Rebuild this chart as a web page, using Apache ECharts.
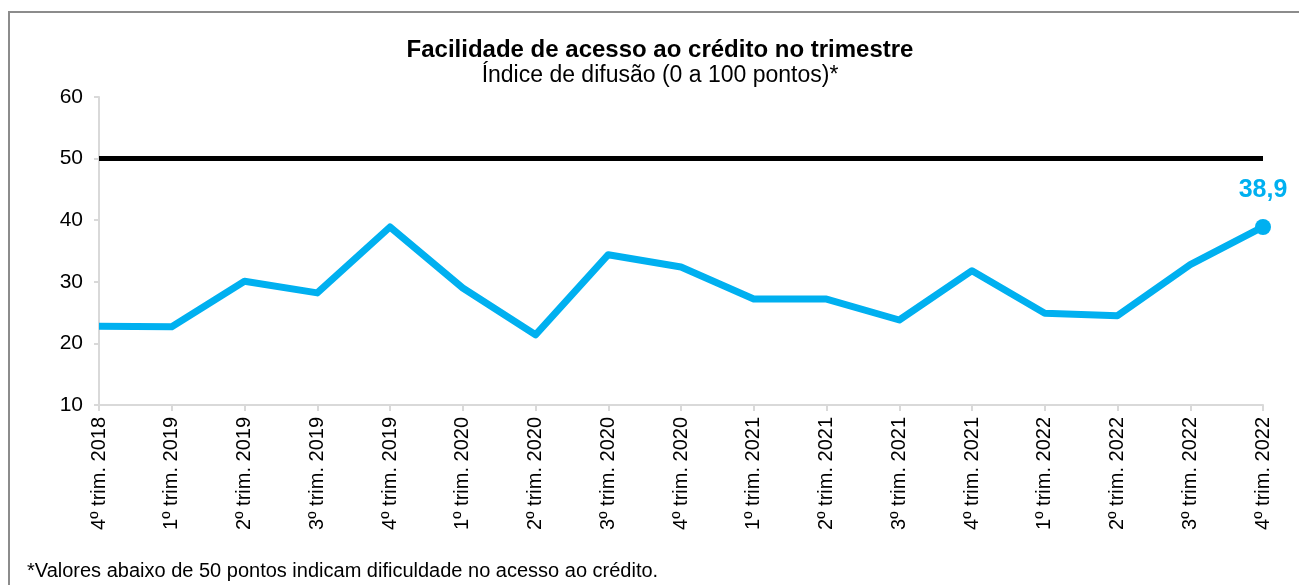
<!DOCTYPE html>
<html>
<head>
<meta charset="utf-8">
<script src="https://cdn.jsdelivr.net/npm/echarts@6/dist/echarts.min.js"></script>
<style>
  html, body { margin: 0; padding: 0; background: #fff; }
  #chart { width: 1299px; height: 585px; }
</style>
</head>
<body>
<div id="chart"></div>
<script>
const categories = [
  "4º trim. 2018", "1º trim. 2019", "2º trim. 2019", "3º trim. 2019", "4º trim. 2019",
  "1º trim. 2020", "2º trim. 2020", "3º trim. 2020", "4º trim. 2020",
  "1º trim. 2021", "2º trim. 2021", "3º trim. 2021", "4º trim. 2021",
  "1º trim. 2022", "2º trim. 2022", "3º trim. 2022", "4º trim. 2022"
];
const indice = [22.8, 22.7, 30.1, 28.2, 38.9, 29.0, 21.4, 34.4, 32.4, 27.2, 27.2, 23.8, 31.8, 24.9, 24.5, 32.8, 38.9];
const referencia = 50;

const font = "Liberation Sans, Arial, sans-serif";
const azul = "#00b0f0";

const chart = echarts.init(document.getElementById("chart"));

const lastIdx = indice.length - 1;
const seriesData = indice.map((v, i) => {
  if (i !== lastIdx) return v;
  return {
    value: v,
    symbol: "circle",
    symbolSize: 16,
    itemStyle: { color: azul },
    label: {
      show: true,
      position: "top",
      distance: 16,
      formatter: (p) => String(p.value).replace(".", ","),
      color: azul,
      fontFamily: font,
      fontWeight: "bold",
      fontSize: 25,
    },
  };
});

chart.setOption({
  animation: false,
  title: {
    text: "Facilidade de acesso ao crédito no trimestre",
    subtext: "Índice de difusão (0 a 100 pontos)*",
    left: 655,
    textAlign: "center",
    top: 33,
    itemGap: 2,
    textStyle: { fontFamily: font, fontSize: 24, fontWeight: "bold", color: "#000" },
    subtextStyle: { fontFamily: font, fontSize: 23, color: "#000" },
  },
  graphic: [
    {
      type: "polyline",
      shape: { points: [[9, 585], [9, 12], [1299, 12]] },
      style: { stroke: "#8c8c8c", lineWidth: 2, fill: null },
    },
    {
      type: "text",
      left: 27,
      top: 561,
      style: {
        text: "*Valores abaixo de 50 pontos indicam dificuldade no acesso ao crédito.",
        font: "20px " + font,
        fill: "#000",
      },
    },
  ],
  grid: { left: 99, right: 36, top: 97, bottom: 180, containLabel: false },
  xAxis: {
    type: "category",
    data: categories,
    boundaryGap: false,
    axisLine: { lineStyle: { color: "#d9d9d9", width: 2 } },
    axisTick: { show: true, alignWithLabel: true, length: 6, lineStyle: { color: "#d9d9d9", width: 2 } },
    axisLabel: {
      rotate: 90,
      interval: 0,
      margin: 12,
      color: "#000",
      fontFamily: font,
      fontSize: 20,
    },
    splitLine: { show: false },
  },
  yAxis: {
    type: "value",
    min: 10,
    max: 60,
    interval: 10,
    axisLine: { show: true, lineStyle: { color: "#d9d9d9", width: 2 } },
    axisTick: { show: true, length: 5, lineStyle: { color: "#d9d9d9", width: 2 } },
    axisLabel: { color: "#000", fontFamily: font, fontSize: 21, margin: 16 },
    splitLine: { show: false },
  },
  series: [
    {
      name: "Índice",
      type: "line",
      data: seriesData,
      symbol: "none",
      showSymbol: true,
      lineStyle: { color: azul, width: 7, join: "round" },
      itemStyle: { color: azul },
      markLine: {
        silent: true,
        symbol: "none",
        label: { show: false },
        lineStyle: { color: "#000", width: 5, type: "solid" },
        data: [{ yAxis: referencia }],
      },
      z: 3,
    },
  ],
});
</script>
</body>
</html>
